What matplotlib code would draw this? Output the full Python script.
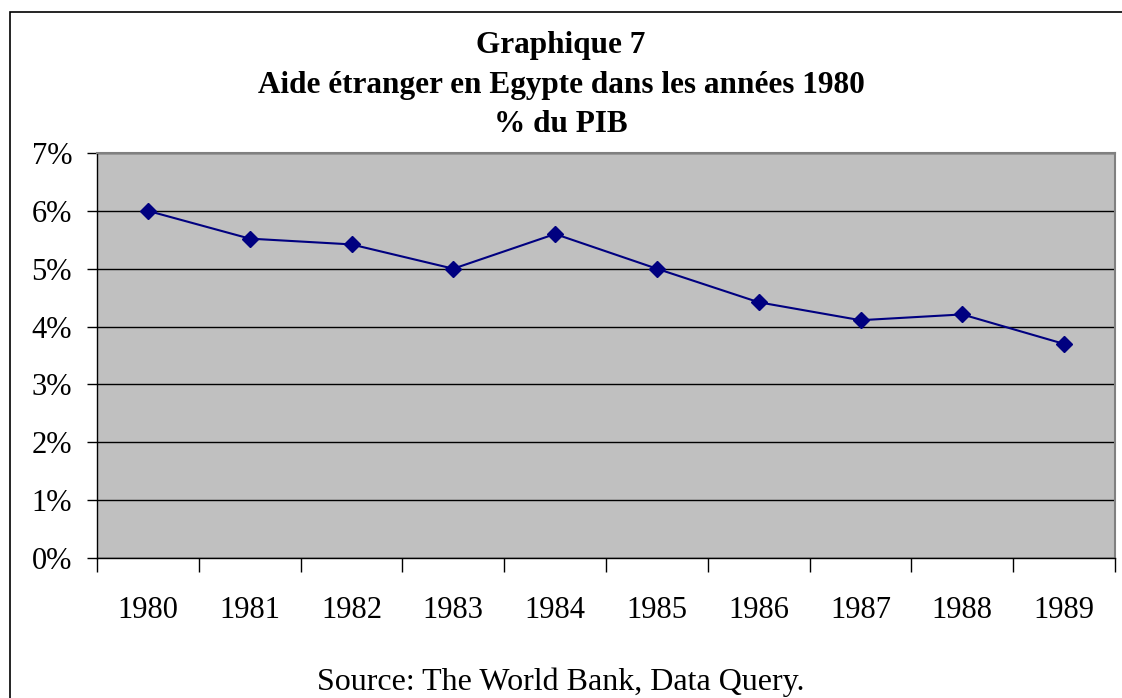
import matplotlib.pyplot as plt
from matplotlib.patches import Rectangle
import numpy as np

years = ['1980', '1981', '1982', '1983', '1984', '1985', '1986', '1987', '1988', '1989']
aide = [6.0, 5.52, 5.42, 5.0, 5.6, 5.0, 4.42, 4.11, 4.21, 3.7]
yticks = [0, 1, 2, 3, 4, 5, 6, 7]

plt.rcParams['font.family'] = ['Liberation Serif', 'DejaVu Serif']

fig = plt.figure(figsize=(11.22, 6.98), dpi=100)
fig.patches.append(Rectangle((10 / 1122, -0.05), 1.2, 1 - 12 / 698 + 0.05,
                             transform=fig.transFigure, fill=False,
                             edgecolor='black', linewidth=1.2))

ax = fig.add_axes([97 / 1122, 1 - 558 / 698, (1115 - 97) / 1122, (558 - 153) / 698])
ax.set_facecolor('#c0c0c0')

x = np.arange(len(years))
ax.plot(x, aide, color='#000080', linewidth=1.5, marker='D', markersize=8)

ax.set_xlim(-0.5, len(years) - 0.5)
ax.set_ylim(0, 7)
ax.set_yticks(yticks)
ax.set_yticklabels([f'{v}%' for v in yticks])
ax.yaxis.grid(True, color='black', linewidth=1)
ax.set_axisbelow(True)

ax.set_xticks(np.arange(-0.5, len(years)), minor=False)
ax.set_xticklabels([])
ax.set_xticks(x, minor=True)
ax.set_xticklabels(years, minor=True)
ax.tick_params(axis='x', which='major', length=10, width=1, direction='out')
ax.tick_params(axis='x', which='minor', length=0, pad=27, labelsize=22)
ax.tick_params(axis='y', length=7, width=1, direction='out', labelsize=22, pad=11)

for s in ['left', 'bottom']:
    ax.spines[s].set_color('black')
    ax.spines[s].set_linewidth(1)
for s in ['top', 'right']:
    ax.spines[s].set_color('#808080')
    ax.spines[s].set_linewidth(1.5)

fig.text(0.5, 1 - 45 / 698, 'Graphique 7', ha='center', va='center',
         fontsize=22.5, fontweight='bold')
fig.text(0.5, 1 - 85 / 698, 'Aide étranger en Egypte dans les années 1980',
         ha='center', va='center', fontsize=22.5, fontweight='bold')
fig.text(0.5, 1 - 125 / 698, '% du PIB', ha='center', va='center',
         fontsize=22.5, fontweight='bold')
fig.text(561 / 1122, 1 - 682 / 698, 'Source: The World Bank, Data Query.',
         ha='center', va='center', fontsize=23)

fig.savefig('out.png', dpi=100)
